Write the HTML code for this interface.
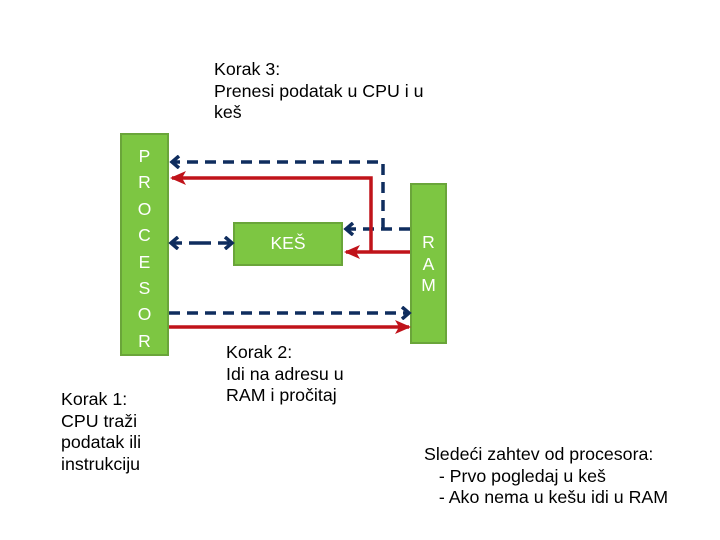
<!DOCTYPE html>
<html><head><meta charset="utf-8"><style>
body{margin:0;width:720px;height:540px;background:#fff;position:relative;font-family:"Liberation Sans",sans-serif;overflow:hidden}
.t{position:absolute;font-size:17.8px;line-height:21.5px;color:#000}
.w{position:absolute;color:#fff;font-size:17.5px;text-align:center}
</style></head><body>
<svg width="720" height="540" style="position:absolute;left:0;top:0">
<defs>
<marker id="ab" markerWidth="12" markerHeight="14" refX="9" refY="7" orient="auto" markerUnits="userSpaceOnUse"><path d="M2,1 L9,7 L2,13" fill="none" stroke="#0f2d5e" stroke-width="3.5"/></marker>
<marker id="ar" markerWidth="16" markerHeight="14" refX="14" refY="7" orient="auto" markerUnits="userSpaceOnUse"><path d="M0,0 L16,7 L0,14 L4,7z" fill="#c0131a"/></marker>
</defs>
<rect x="121" y="134" width="47" height="221" fill="#7dc642" stroke="#6aa53a" stroke-width="2"/>
<rect x="234" y="223" width="108" height="42" fill="#7dc642" stroke="#6aa53a" stroke-width="2"/>
<rect x="411" y="184" width="35" height="159" fill="#7dc642" stroke="#6aa53a" stroke-width="2"/>
<g fill="none" stroke="#0f2d5e" stroke-width="3.5" stroke-dasharray="11,7">
<polyline points="383,229 383,162 172,162" marker-end="url(#ab)"/>
<line x1="410" y1="229" x2="346" y2="229" marker-end="url(#ab)"/>
<line x1="200" y1="243" x2="232" y2="243" marker-end="url(#ab)"/>
<line x1="200" y1="243" x2="171" y2="243" marker-end="url(#ab)"/>
<line x1="169" y1="313" x2="409" y2="313" marker-end="url(#ab)"/>
</g>
<g fill="none" stroke="#c0131a" stroke-width="3.5">
<polyline points="371,252 371,178 172,178" marker-end="url(#ar)"/>
<line x1="410" y1="252" x2="346" y2="252" marker-end="url(#ar)"/>
<line x1="169" y1="327" x2="409" y2="327" marker-end="url(#ar)"/>
</g>
</svg>
<div class="w" style="left:121px;top:143px;width:47px;line-height:26.4px">P<br>R<br>O<br>C<br>E<br>S<br>O<br>R</div>
<div class="w" style="left:234px;top:233px;width:108px">KEŠ</div>
<div class="w" style="left:411px;top:232px;width:35px;line-height:21.5px">R<br>A<br>M</div>
<div class="t" style="left:214px;top:59px">Korak 3:<br>Prenesi podatak u CPU i u<br>keš</div>
<div class="t" style="left:226px;top:342px">Korak 2:<br>Idi na adresu u<br>RAM i pročitaj</div>
<div class="t" style="left:61px;top:389px">Korak 1:<br>CPU traži<br>podatak ili<br>instrukciju</div>
<div class="t" style="left:424px;top:444px;white-space:pre">Sledeći zahtev od procesora:
   - Prvo pogledaj u keš
   - Ako nema u kešu idi u RAM</div>
</body></html>
